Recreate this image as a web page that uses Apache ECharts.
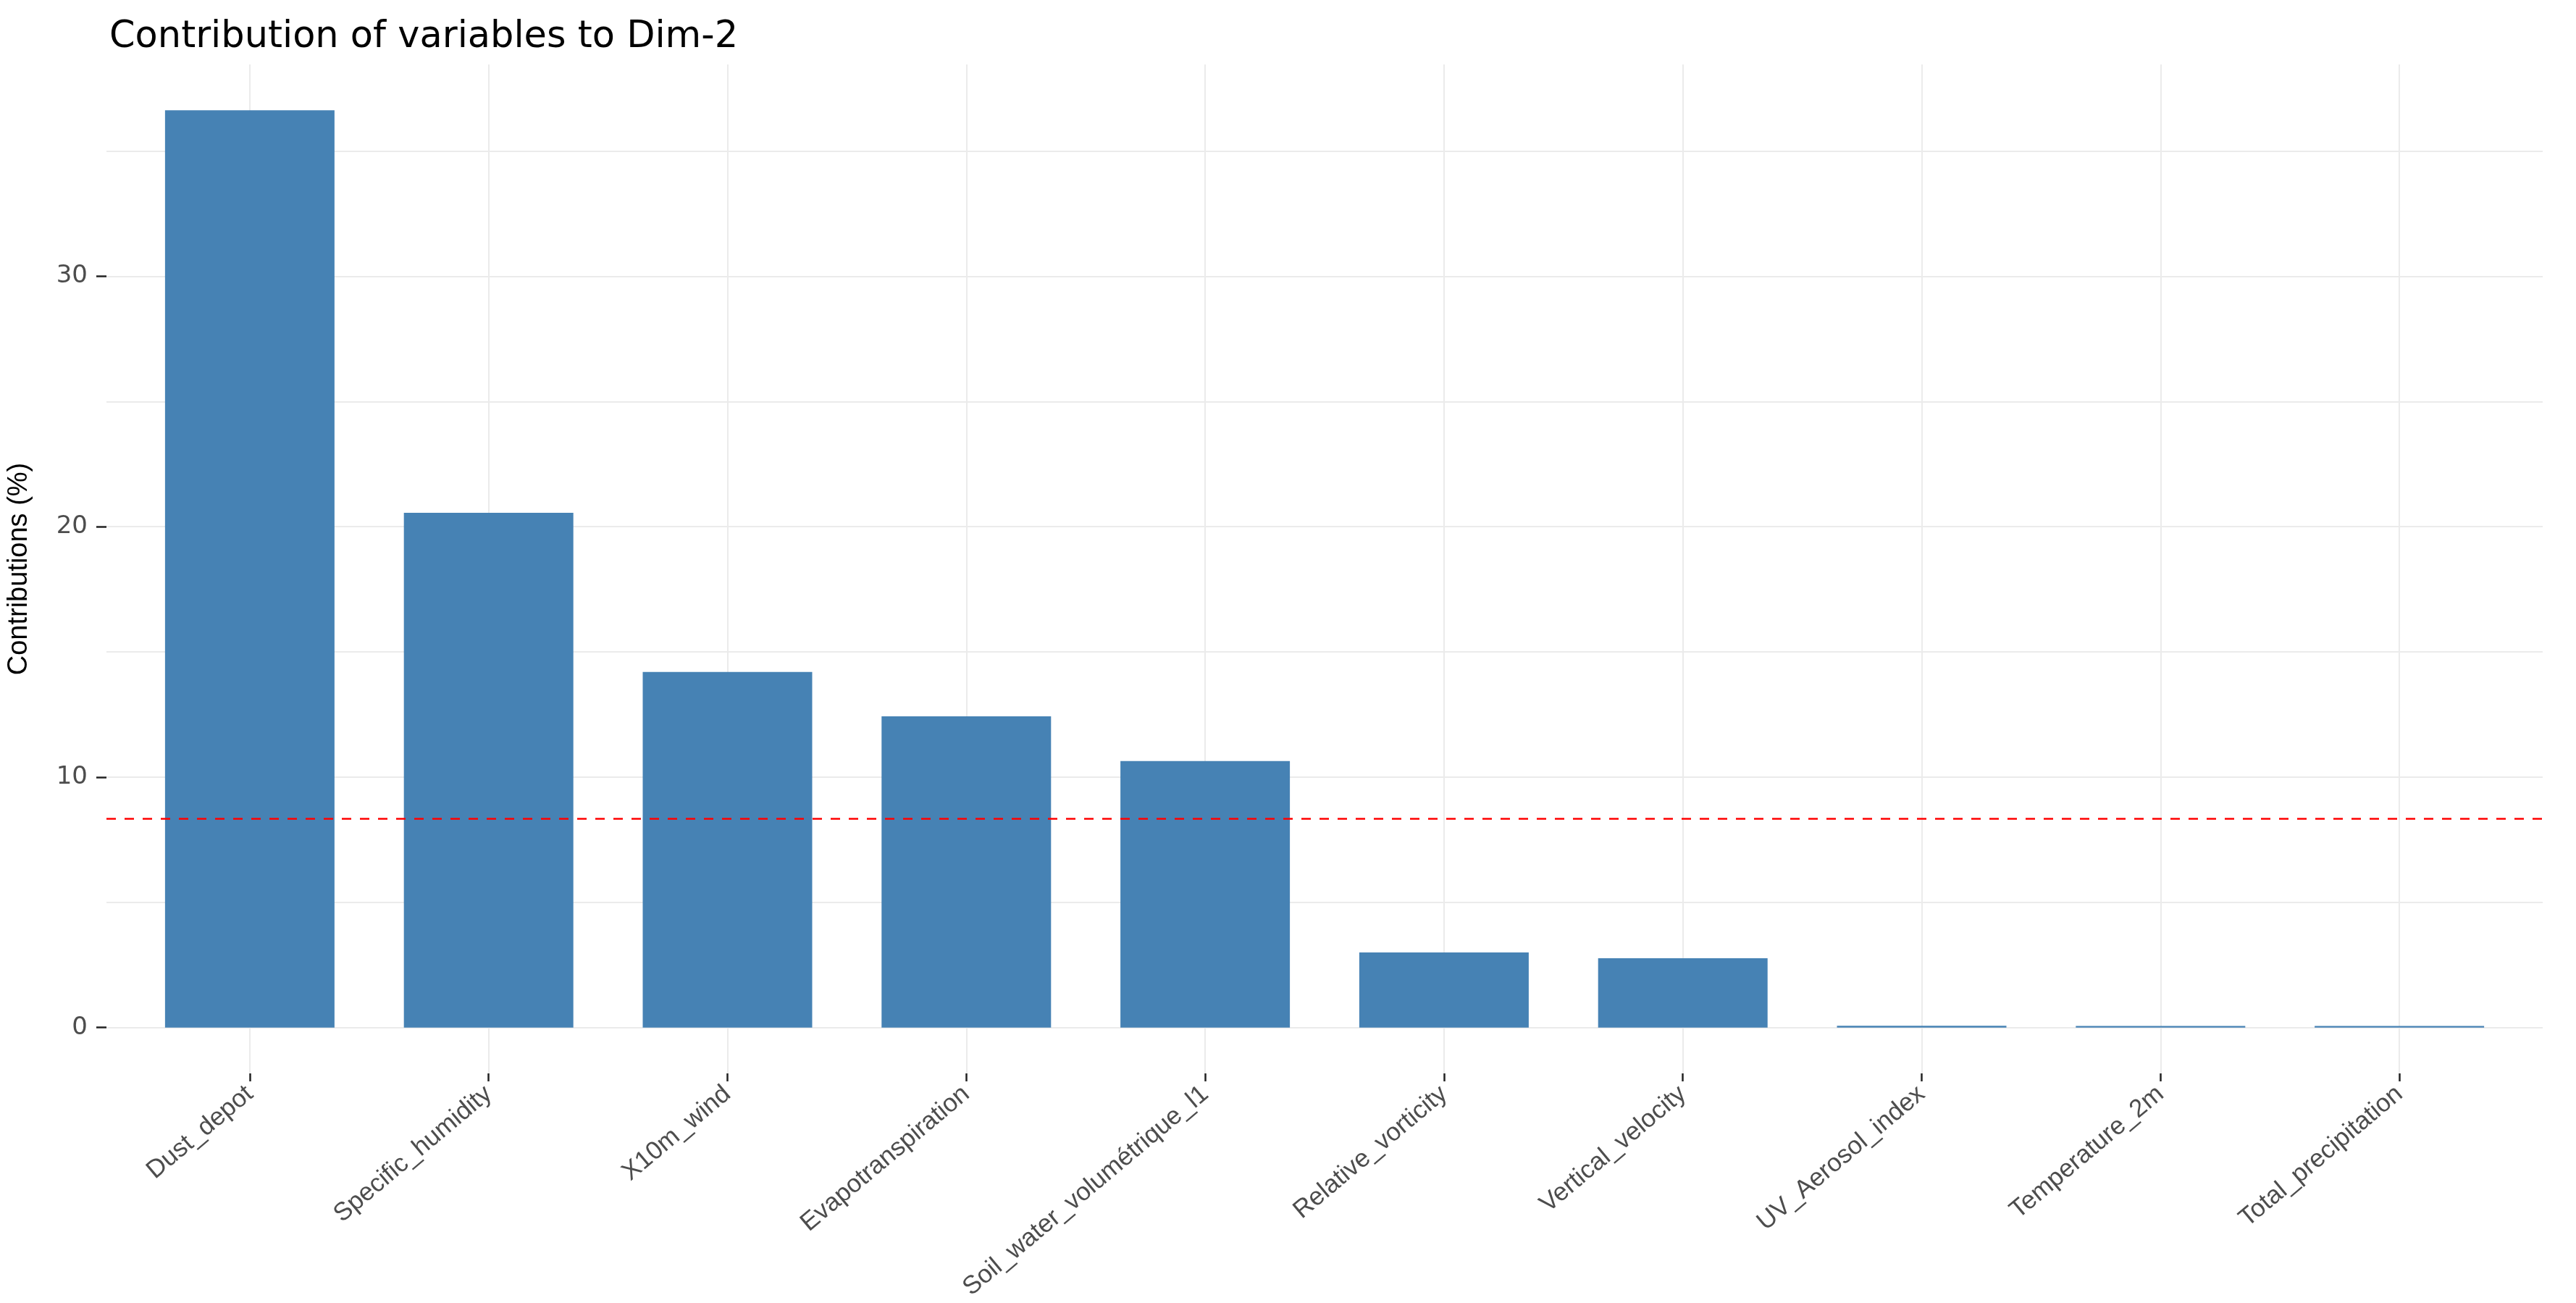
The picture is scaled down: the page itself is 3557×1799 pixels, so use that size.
<!DOCTYPE html>
<html><head><meta charset="utf-8">
<script src="https://cdn.jsdelivr.net/npm/echarts@6/dist/echarts.min.js"></script>
<style>html,body{margin:0;padding:0;background:#fff}#c{width:3557px;height:1799px}</style>
</head><body><div id="c"></div>
<script>
const chartTitle = 'Contribution of variables to Dim-2';
const yAxisName = 'Contributions (%)';
const categories = ['Dust_depot','Specific_humidity','X10m_wind','Evapotranspiration','Soil_water_volumétrique_l1','Relative_vorticity','Vertical_velocity','UV_Aerosol_index','Temperature_2m','Total_precipitation'];
const contributions = [36.63, 20.56, 14.2, 12.43, 10.64, 3.0, 2.77, 0.07, 0.06, 0.06];
const expectedContribution = 8.33;
const yTickValues = [0, 10, 20, 30];
const yMinorGridValues = [5, 15, 25, 35];

const maxVal = Math.max(...contributions);
const yMin = -0.05 * maxVal, yMax = 1.05 * maxVal;
const xIdx = categories.map((_, i) => i);

const chart = echarts.init(document.getElementById('c'), null, {renderer: 'canvas'});
chart.setOption({
  animation: false,
  backgroundColor: '#ffffff',
  title: {
    text: chartTitle, left: 146, top: 21,
    textStyle: {fontFamily: 'DejaVu Sans', fontSize: 51, fontWeight: 'normal', color: '#000'}
  },
  grid: {left: 147, right: 46, top: 89, bottom: 317, containLabel: false},
  xAxis: {
    type: 'value', min: -0.6, max: categories.length - 0.4,
    splitLine: {show: false},
    axisLine: {show: false, onZero: false},
    axisTick: {show: true, customValues: xIdx, length: 11, lineStyle: {color: '#222', width: 2.5}},
    axisLabel: {
      customValues: xIdx, formatter: v => categories[Math.round(v)],
      rotate: 40, margin: 24, fontSize: 35, fontFamily: 'Liberation Sans', color: '#4d4d4d'
    }
  },
  yAxis: {
    type: 'value', min: yMin, max: yMax,
    name: yAxisName, nameLocation: 'middle', nameRotate: 90, nameGap: 101,
    nameTextStyle: {fontFamily: 'Liberation Sans', fontSize: 38, color: '#000'},
    splitLine: {show: false},
    axisLine: {show: false, onZero: false},
    axisTick: {show: true, customValues: yTickValues, length: 14, lineStyle: {color: '#222', width: 2.5}},
    axisLabel: {customValues: yTickValues, margin: 26, fontSize: 34, fontFamily: 'DejaVu Sans', color: '#4d4d4d'}
  },
  series: [
    {
      type: 'line', data: [], z: 1, silent: true,
      markLine: {
        z: 1, silent: true, symbol: ['none', 'none'], label: {show: false},
        lineStyle: {color: '#ebebeb', width: 2, type: 'solid'},
        emphasis: {disabled: true},
        data: yTickValues.concat(yMinorGridValues).map(v => ({yAxis: v}))
          .concat(xIdx.map(i => ({xAxis: i})))
      }
    },
    {
      type: 'bar', z: 2, barWidth: 234,
      data: contributions.map((v, i) => [i, v]),
      itemStyle: {color: '#4682b4'},
      markLine: {
        z: 6, silent: true, symbol: ['none', 'none'], label: {show: false},
        lineStyle: {color: '#ff0000', width: 2.7, type: [13, 12]},
        emphasis: {disabled: true},
        data: [{yAxis: expectedContribution}]
      }
    }
  ]
});
</script>
</body></html>
